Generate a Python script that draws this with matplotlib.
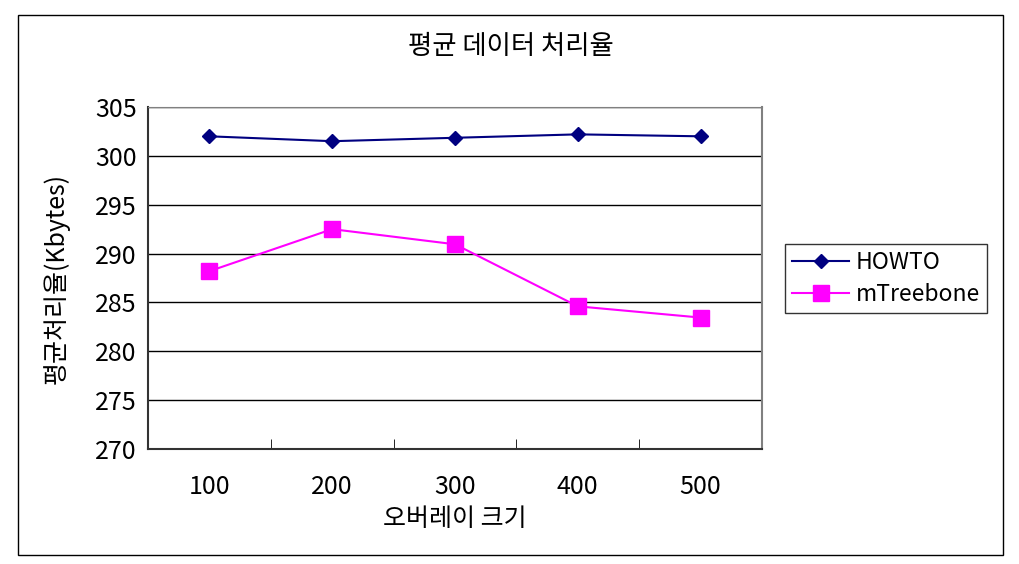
import numpy as np
import matplotlib.pyplot as plt
from matplotlib.patches import Rectangle

plt.rcParams['font.family'] = ['Noto Sans CJK KR', 'DejaVu Sans']

sizes = ['100', '200', '300', '400', '500']
howto = [302.0, 301.5, 301.85, 302.2, 302.0]
mtreebone = [288.2, 292.5, 290.95, 284.6, 283.45]
yticks = [270, 275, 280, 285, 290, 295, 300, 305]

W, H = 1020, 564
fig = plt.figure(figsize=(W / 100, H / 100), dpi=100)

# outer chart border
fig.patches.append(Rectangle((18 / W, 1 - 555 / H), 985 / W, 540 / H,
                             transform=fig.transFigure, fill=False,
                             edgecolor='black', linewidth=1.0))

ax = fig.add_axes([148 / W, 1 - 449 / H, 614 / W, 342 / H])
x = np.arange(1, len(sizes) + 1)

ax.plot(x, howto, color='#000080', marker='D', markersize=7, linewidth=1.5,
        label='HOWTO', zorder=3)
ax.plot(x, mtreebone, color='#FF00FF', marker='s', markersize=11, linewidth=1.5,
        label='mTreebone', zorder=3)

ax.set_xlim(0.5, len(sizes) + 0.5)
ax.set_ylim(270, 305)
ax.set_yticks(yticks)
ax.set_yticklabels([str(v) for v in yticks], fontsize=18)
ax.tick_params(axis='y', length=0, pad=8)
ax.grid(axis='y', color='black', linewidth=1.0)
ax.set_axisbelow(True)

ax.set_xticks(x)
ax.set_xticklabels(sizes, fontsize=18)
ax.tick_params(axis='x', which='major', length=0, pad=18)
ax.set_xticks(np.arange(1.5, len(sizes)), minor=True)
ax.tick_params(axis='x', which='minor', direction='in', length=7, color='black')

for s in ['left', 'bottom']:
    ax.spines[s].set_color('#333333')
    ax.spines[s].set_linewidth(1.5)
ax.spines['right'].set_color('#808080')
ax.spines['right'].set_linewidth(1.5)
ax.spines['top'].set_color('#808080')

ax.set_xlabel('오버레이 크기', fontsize=18, labelpad=4)
ax.set_ylabel('평균처리율(Kbytes)', fontsize=18, labelpad=18)
fig.text(511 / W, 1 - 46 / H, '평균 데이터 처리율', ha='center', va='center', fontsize=19)

leg = fig.legend(loc='upper left', bbox_to_anchor=(785 / W, 1 - 244 / H),
                 fontsize=16.5, frameon=True, fancybox=False, edgecolor='black',
                 handlelength=2.5, borderpad=0.3, labelspacing=0.4, handletextpad=0.3,
                 borderaxespad=0)
leg.get_frame().set_linewidth(1.0)

fig.savefig('out.png', dpi=100)
